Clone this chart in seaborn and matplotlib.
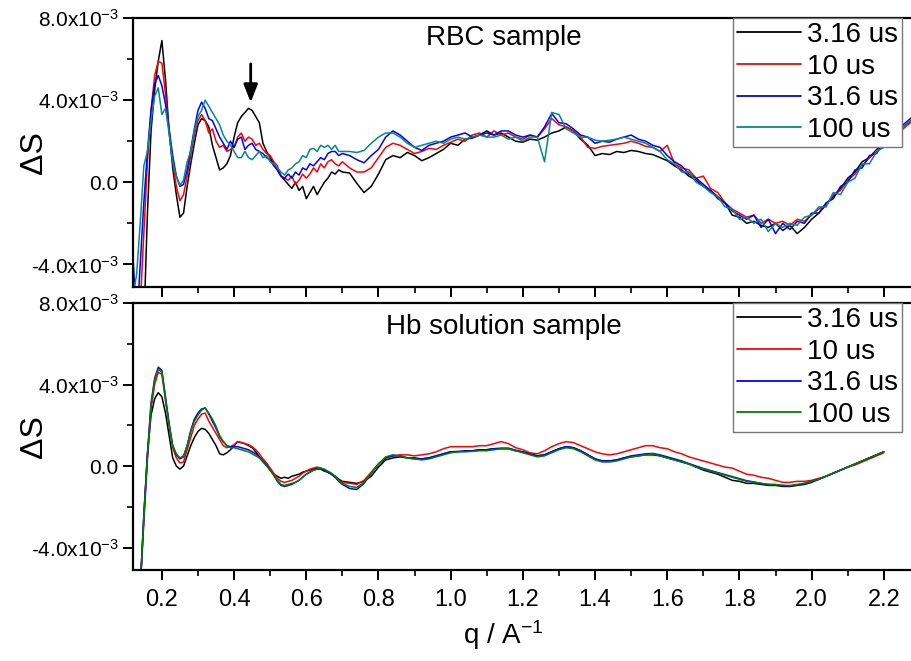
import numpy as np
import pandas as pd
import matplotlib
matplotlib.use("Agg")
import matplotlib.pyplot as plt
import seaborn as sns
from matplotlib.ticker import FixedLocator, MultipleLocator
from matplotlib import font_manager

sns.set_theme(style="white")
plt.rcParams["font.family"] = ["Liberation Sans", "DejaVu Sans"]
plt.rcParams["text.color"] = "black"
plt.rcParams["axes.labelcolor"] = "black"
plt.rcParams["xtick.color"] = "black"
plt.rcParams["ytick.color"] = "black"
plt.rcParams["mathtext.fontset"] = "custom"
plt.rcParams["mathtext.rm"] = "Liberation Sans"
plt.rcParams["mathtext.it"] = "Liberation Sans:italic"
plt.rcParams["mathtext.bf"] = "Liberation Sans:bold"

# ---------------- data (ΔS in units of 1e-3) ----------------
q_fine = np.round(np.arange(0.12, 0.705, 0.01), 3)          # 0.12 .. 0.70
q_top_coarse = np.round(np.arange(0.72, 2.285, 0.02), 3)    # 0.72 .. 2.28
q_bot_coarse = np.round(np.arange(0.72, 2.205, 0.02), 3)    # 0.72 .. 2.20

labels = ["3.16 us", "10 us", "31.6 us", "100 us"]
top_colors = ["#000000", "#FF0000", "#0000FF", "#008B8B"]
bot_colors = ["#000000", "#FF0000", "#0000FF", "#008000"]

rbc_316_a = [-9, -9, -8, -7, -1.5, 2.5, 4.5, 5.9, 6.9, 5.0, 2.5, 0.7, -0.6, -1.7, -1.5, -0.2, 0.9, 1.9,
             2.8, 3.1, 3.0, 2.7, 1.8, 1.2, 0.6, 0.7, 0.9, 1.3, 2.2, 2.9, 3.2, 3.4, 3.6, 3.5, 3.2, 2.9,
             1.9, 1.5, 1.2, 0.9, 0.6, 0.3, 0.1, -0.1, -0.3, 0.0, -0.4, -0.2, -0.8, -0.5, -0.2, -0.6,
             -0.3, 0.0, 0.2, 0.5, 0.4, 0.6, 0.5]
rbc_316_b = [0.45, -0.05, -0.5, -0.2, 0.4, 1.1, 1.3, 1.2, 1.45, 1.3,
             1.05, 1.2, 1.4, 1.6, 1.9, 1.8, 2.1, 2.15, 2.3, 2.5,
             2.3, 2.4, 2.2, 2.0, 1.95, 2.1, 2.05, 2.2, 2.4, 2.5,
             2.7, 2.5, 2.1, 1.8, 1.3, 1.4, 1.35, 1.5, 1.45, 1.55,
             1.5, 1.4, 1.35, 1.2, 1.05, 0.8, 0.6, 0.3, 0.1, -0.2,
             -0.4, -0.7, -1.0, -1.6, -1.7, -2.0, -1.9, -2.1, -2.2, -2.0,
             -2.35, -2.1, -2.5, -2.2, -1.8, -1.5, -1.1, -0.7, -0.3, 0.2,
             0.5, 1.0, 1.2, 1.6, 1.9, 2.2, 2.5, 2.8, 3.0]

rbc_10_a = [-9, -9, -6, -2.5, 1.0, 3.5, 5.2, 5.9, 5.8, 4.3, 2.5, 1.0, -0.2, -0.9, -0.6, 0.3, 1.3, 2.3,
            3.0, 3.3, 3.0, 2.4, 2.6, 2.0, 1.7, 1.8, 1.5, 1.6, 1.7, 2.2, 2.4, 2.0, 2.2, 2.1, 1.8, 1.9,
            1.6, 1.4, 1.3, 1.0, 0.8, 0.3, 0.2, 0.1, 0.3, -0.1, 0.1, 0.4, 0.2, 0.4, 0.7, 0.5, 0.9,
            0.7, 1.0, 1.1, 0.9, 0.8, 1.0]
rbc_10_b = [0.7, 0.5, 0.5, 0.7, 1.2, 1.7, 1.9, 1.8, 1.6, 1.4,
            1.5, 1.65, 1.6, 1.8, 1.95, 2.1, 2.0, 2.3, 2.4, 2.2,
            2.5, 2.3, 2.4, 2.2, 2.1, 2.3, 2.2, 2.6, 3.1, 2.8,
            2.7, 2.5, 2.2, 1.7, 1.65, 1.75, 1.8, 1.85, 1.9, 2.0,
            1.9, 1.75, 1.7, 1.5, 1.8, 0.9, 0.7, 0.6, 0.2, 0.3,
            -0.3, -0.5, -1.0, -1.3, -1.5, -1.7, -1.6, -2.0, -1.8, -2.0,
            -1.9, -2.1, -1.8, -1.9, -1.6, -1.3, -1.1, -0.6, -0.4, 0.1,
            0.4, 0.8, 1.2, 1.5, 1.8, 2.3, 2.4, 2.7, 3.0]

rbc_316b_a = [-3.6, -7, -4, -1.0, 1.5, 3.5, 4.8, 5.2, 4.7, 3.8, 2.6, 1.3, 0.3, -0.2, -0.1, 0.6, 1.6, 2.6,
              3.5, 3.9, 3.6, 3.1, 3.0, 2.6, 2.2, 1.9, 1.6, 2.0, 1.7, 2.1, 2.2, 1.6, 1.8, 1.9, 1.6, 1.5,
              1.4, 1.2, 1.1, 0.8, 0.6, 0.3, 0.2, 0.4, 0.2, 0.5, 0.35, 0.7, 0.6, 0.9, 0.8, 1.0, 1.2,
              1.1, 1.4, 1.5, 1.5, 1.3, 1.4]
rbc_316b_b = [1.3, 1.1, 0.95, 1.3, 1.6, 2.2, 2.5, 2.3, 2.0, 1.7,
              1.55, 1.8, 1.9, 2.0, 2.2, 2.3, 2.4, 2.2, 2.3, 2.4,
              2.3, 2.5, 2.5, 2.3, 2.2, 2.3, 2.2, 2.7, 3.35, 2.9,
              2.85, 2.6, 2.3, 2.2, 1.9, 2.0, 1.95, 2.1, 2.2, 2.3,
              2.1, 2.0, 1.8, 1.7, 1.3, 1.0, 0.8, 0.4, 0.2, -0.1,
              -0.4, -0.8, -1.0, -1.4, -1.6, -1.8, -1.6, -2.2, -1.8, -2.5,
              -2.0, -2.3, -1.9, -2.0, -1.5, -1.5, -1.0, -0.8, -0.2, 0.0,
              0.6, 0.7, 1.3, 1.4, 2.0, 2.1, 2.6, 2.9, 3.2]

rbc_100_a = [-5.5, -4.5, -2.0, 0.8, 1.5, 3.0, 4.2, 4.6, 3.3, 3.6, 2.4, 1.0, 0.3, -0.15, 0.1, 1.0, 1.5, 2.5,
             3.2, 3.5, 4.0, 3.7, 3.4, 3.1, 2.8, 2.3, 2.0, 1.8, 1.5, 1.2, 1.2, 1.5, 1.2, 1.1, 1.3, 1.5,
             1.2, 1.3, 1.0, 0.9, 0.7, 0.5, 0.35, 0.6, 0.7, 0.9, 1.0, 1.3, 1.2, 1.6, 1.65, 1.5, 1.8,
             1.7, 1.8, 1.6, 1.8, 1.5, 1.5]
rbc_100_b = [1.5, 1.45, 1.55, 1.9, 2.2, 2.4, 2.4, 2.2, 1.9, 1.7,
             1.8, 1.9, 2.0, 1.9, 2.1, 2.2, 2.1, 2.2, 2.3, 2.2,
             2.2, 2.3, 2.1, 2.2, 2.0, 2.2, 2.2, 1.0, 3.4, 3.3,
             2.6, 2.4, 2.2, 2.2, 2.05, 2.0, 2.05, 2.1, 2.2, 2.1,
             2.0, 1.9, 1.7, 1.5, 1.1, 0.9, 0.5, 0.5, 0.0, -0.2,
             -0.5, -0.7, -1.2, -1.3, -1.8, -1.7, -2.0, -1.8, -2.4, -2.0,
             -2.2, -2.0, -2.1, -1.7, -1.6, -1.2, -1.2, -0.5, -0.6, 0.0,
             0.2, 0.9, 0.9, 1.5, 1.7, 2.3, 2.5, 2.8, 3.1]

hb_316_a = [-9, -8, -6, -2.5, 0.6, 2.5, 3.3, 3.6, 3.4, 2.6, 1.5, 0.4, 0.0, -0.15, 0.0, 0.5, 1.0, 1.4,
            1.7, 1.85, 1.8, 1.6, 1.3, 1.0, 0.6, 0.55, 0.65, 0.8, 1.0, 1.2, 1.15, 1.1, 1.0, 0.9, 0.7,
            0.45, 0.25, 0.05, -0.2, -0.4, -0.5, -0.6, -0.55, -0.6, -0.5, -0.45, -0.4, -0.3, -0.25,
            -0.2, -0.15, -0.1, -0.15, -0.25, -0.3, -0.4, -0.5, -0.65, -0.75]
hb_316_b = [-0.8, -0.85, -0.75, -0.5, -0.05, 0.3, 0.4, 0.45, 0.4, 0.4,
            0.35, 0.4, 0.5, 0.6, 0.7, 0.7, 0.75, 0.75, 0.8, 0.8,
            0.85, 0.85, 0.85, 0.75, 0.7, 0.6, 0.5, 0.55, 0.7, 0.85,
            0.95, 0.9, 0.75, 0.55, 0.35, 0.25, 0.25, 0.3, 0.4, 0.45,
            0.5, 0.55, 0.55, 0.5, 0.4, 0.3, 0.2, 0.1, -0.05, -0.2,
            -0.3, -0.4, -0.55, -0.7, -0.75, -0.85, -0.85, -0.9, -0.95, -0.95,
            -1.0, -1.0, -0.95, -0.9, -0.8, -0.65, -0.5, -0.35, -0.2, -0.05,
            0.1, 0.25, 0.4, 0.55, 0.7]

hb_10_a = [-9, -8, -6, -2.8, 0.3, 2.8, 4.0, 4.6, 4.5, 3.2, 2.0, 0.9, 0.4, 0.15, 0.2, 0.8, 1.4, 2.0,
           2.3, 2.55, 2.6, 2.2, 1.9, 1.6, 1.3, 1.0, 0.9, 0.95, 1.05, 1.2, 1.15, 1.1, 1.05, 0.95, 0.8,
           0.6, 0.35, 0.15, -0.1, -0.35, -0.6, -0.75, -0.8, -0.75, -0.7, -0.6, -0.5, -0.35, -0.25,
           -0.15, -0.1, -0.05, -0.1, -0.2, -0.3, -0.4, -0.55, -0.7, -0.8]
hb_10_b = [-0.85, -0.9, -0.7, -0.3, 0.1, 0.4, 0.5, 0.55, 0.55, 0.5,
           0.55, 0.6, 0.7, 0.85, 0.95, 0.95, 0.95, 0.95, 1.0, 1.0,
           1.1, 1.2, 1.1, 0.9, 0.8, 0.65, 0.6, 0.75, 0.95, 1.1,
           1.2, 1.15, 1.0, 0.85, 0.7, 0.6, 0.55, 0.6, 0.7, 0.8,
           0.9, 1.0, 1.0, 0.9, 0.85, 0.7, 0.6, 0.45, 0.35, 0.25,
           0.15, 0.05, -0.05, -0.1, -0.25, -0.4, -0.45, -0.55, -0.6, -0.7,
           -0.8, -0.8, -0.75, -0.75, -0.7, -0.6, -0.5, -0.35, -0.2, -0.05,
           0.05, 0.2, 0.35, 0.5, 0.65]

hb_316b_a = [-9, -8, -6, -2.4, 0.6, 3.1, 4.3, 4.85, 4.7, 3.4, 2.1, 1.0, 0.55, 0.35, 0.45, 1.0, 1.75, 2.3,
             2.6, 2.8, 2.85, 2.55, 2.2, 1.85, 1.45, 1.2, 1.0, 0.95, 0.95, 0.95, 0.9, 0.85, 0.8, 0.7, 0.6,
             0.45, 0.25, 0.05, -0.2, -0.45, -0.75, -0.95, -1.0, -0.95, -0.9, -0.8, -0.7, -0.55, -0.4,
             -0.3, -0.2, -0.15, -0.15, -0.2, -0.3, -0.4, -0.55, -0.75, -0.9]
hb_316b_b = [-1.1, -1.15, -0.85, -0.35, 0.1, 0.4, 0.5, 0.5, 0.4, 0.35,
             0.35, 0.4, 0.5, 0.6, 0.7, 0.72, 0.72, 0.75, 0.78, 0.8,
             0.85, 0.88, 0.88, 0.78, 0.68, 0.58, 0.5, 0.55, 0.7, 0.85,
             0.95, 0.9, 0.75, 0.55, 0.35, 0.25, 0.25, 0.3, 0.4, 0.5,
             0.55, 0.6, 0.62, 0.55, 0.45, 0.35, 0.25, 0.12, 0.0, -0.12,
             -0.22, -0.32, -0.42, -0.52, -0.62, -0.72, -0.78, -0.85, -0.9, -0.92,
             -0.95, -0.98, -0.92, -0.85, -0.75, -0.65, -0.5, -0.35, -0.2, -0.05,
             0.1, 0.25, 0.4, 0.55, 0.7]

hb_100_a = [-9, -8, -6, -2.5, 0.5, 3.0, 4.2, 4.75, 4.6, 3.3, 2.0, 1.0, 0.6, 0.4, 0.5, 1.0, 1.7, 2.2,
            2.5, 2.75, 2.85, 2.6, 2.3, 1.95, 1.5, 1.2, 1.0, 0.9, 0.9, 0.85, 0.8, 0.75, 0.7, 0.6, 0.5,
            0.4, 0.2, 0.0, -0.2, -0.45, -0.7, -0.9, -0.95, -0.9, -0.85, -0.8, -0.7, -0.55, -0.4,
            -0.3, -0.2, -0.15, -0.1, -0.15, -0.25, -0.35, -0.5, -0.7, -0.85]
hb_100_b = [-1.0, -1.05, -0.8, -0.35, 0.1, 0.45, 0.55, 0.5, 0.4, 0.35,
            0.3, 0.35, 0.45, 0.55, 0.65, 0.7, 0.7, 0.72, 0.75, 0.75,
            0.8, 0.85, 0.85, 0.75, 0.65, 0.55, 0.45, 0.5, 0.65, 0.8,
            0.9, 0.85, 0.7, 0.5, 0.3, 0.2, 0.2, 0.25, 0.35, 0.45,
            0.5, 0.55, 0.6, 0.5, 0.4, 0.3, 0.2, 0.1, -0.05, -0.15,
            -0.25, -0.35, -0.45, -0.55, -0.65, -0.75, -0.8, -0.85, -0.9, -0.9,
            -0.95, -0.95, -0.9, -0.85, -0.75, -0.65, -0.5, -0.35, -0.2, -0.05,
            0.1, 0.25, 0.4, 0.55, 0.7]

panel_titles = ["RBC sample", "Hb solution sample"]
ytick_vals = [-4e-3, 0.0, 4e-3, 8e-3]
ytick_labels = ["-4.0x10$^{-3}$", "0.0", "4.0x10$^{-3}$", "8.0x10$^{-3}$"]
xtick_vals = [0.2, 0.4, 0.6, 0.8, 1.0, 1.2, 1.4, 1.6, 1.8, 2.0, 2.2]
xtick_labels = ["0.2", "0.4", "0.6", "0.8", "1.0", "1.2", "1.4", "1.6", "1.8", "2.0", "2.2"]
arrow_q = 0.446
arrow_from, arrow_to = 5.9e-3, 3.75e-3

# ---------------- assemble ----------------
def build(q_a, q_b, series):
    frames = []
    for lab, (a, b) in zip(labels, series):
        q = np.concatenate([q_a, q_b])
        v = np.concatenate([a, b]) * 1e-3
        frames.append(pd.DataFrame({"q": q, "dS": v, "delay": lab}))
    return pd.concat(frames, ignore_index=True)

df_top = build(q_fine, q_top_coarse, [(rbc_316_a, rbc_316_b), (rbc_10_a, rbc_10_b),
                                      (rbc_316b_a, rbc_316b_b), (rbc_100_a, rbc_100_b)])
df_bot = build(q_fine, q_bot_coarse, [(hb_316_a, hb_316_b), (hb_10_a, hb_10_b),
                                      (hb_316b_a, hb_316b_b), (hb_100_a, hb_100_b)])

installed = {f.name for f in font_manager.fontManager.ttflist}
narrow = "Liberation Sans Narrow" if "Liberation Sans Narrow" in installed else "Liberation Sans"

W, H = 912, 661
fig = plt.figure(figsize=(W / 100, H / 100), dpi=100)
left, right = 133 / W, 1.0
ax1 = fig.add_axes([left, 1 - 287 / H, right - left, (287 - 18) / H])
ax2 = fig.add_axes([left, 1 - 570 / H, right - left, (570 - 303) / H])

for ax, df, cols, title, ty in [(ax1, df_top, top_colors, panel_titles[0], 0.925),
                                 (ax2, df_bot, bot_colors, panel_titles[1], 0.91)]:
    for lab, c in zip(labels, cols):
        sub = df[df["delay"] == lab]
        sns.lineplot(data=sub, x="q", y="dS", color=c, lw=1.1, ax=ax, label=lab,
                     sort=False, estimator=None)
    ax.set_xlim(0.12, 2.278)
    ax.set_ylim(-5.1e-3, 8.0e-3)
    ax.yaxis.set_major_locator(FixedLocator(ytick_vals))
    ax.set_yticklabels(ytick_labels)
    ax.yaxis.set_minor_locator(MultipleLocator(2e-3))
    ax.xaxis.set_major_locator(FixedLocator(xtick_vals))
    ax.xaxis.set_minor_locator(MultipleLocator(0.1))
    ax.tick_params(which="major", direction="out", length=7, width=1.4, labelsize=15,
                   color="black", labelcolor="black", bottom=True, left=True)
    ax.tick_params(which="minor", direction="out", length=4, width=1.2, color="black",
                   bottom=True, left=True)
    for s in ["left", "top", "bottom"]:
        ax.spines[s].set_color("black")
        ax.spines[s].set_linewidth(1.6)
    ax.spines["right"].set_visible(False)
    ax.set_ylabel("ΔS", fontsize=23, color="black")
    ax.yaxis.set_label_coords(-0.108, 0.5)
    ax.text(0.476, ty, title, transform=ax.transAxes, ha="center", va="center",
            fontsize=20, color="black")
    leg = ax.legend(loc="upper right", bbox_to_anchor=(0.987, 1.0), frameon=True,
                    fancybox=False, edgecolor="#777777", framealpha=1, fontsize=20,
                    handlelength=2.3, borderpad=0.15, labelspacing=0.2,
                    handletextpad=0.22, borderaxespad=0)
    leg.get_frame().set_linewidth(1.0)
    for t in leg.get_texts():
        t.set_color("black")
    for h in leg.get_lines():
        h.set_linewidth(1.3)

ax1.set_xticklabels([])
ax1.set_xlabel("")
ax2.set_xticklabels(xtick_labels, fontsize=17, family=[narrow, "Liberation Sans"])
ax2.tick_params(axis="x", which="major", pad=7)
ax2.set_xlabel("q / A$^{-1}$", fontsize=20, color="black")
ax2.xaxis.set_label_coords(0.475, -0.18)

ax1.annotate("", xy=(arrow_q, arrow_to), xytext=(arrow_q, arrow_from),
             arrowprops=dict(arrowstyle="-|>,head_length=0.9,head_width=0.35",
                             color="black", lw=2))

fig.savefig("out.png", dpi=100)
